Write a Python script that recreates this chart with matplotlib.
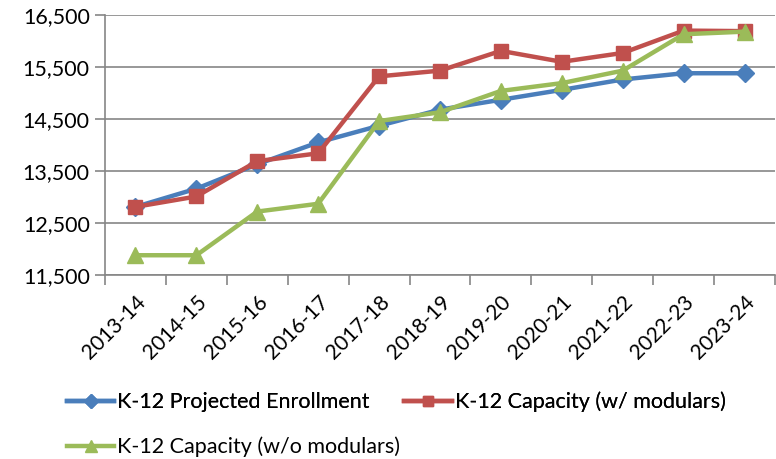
import matplotlib
matplotlib.use("Agg")
import matplotlib.pyplot as plt
import numpy as np

years = ["2013-14", "2014-15", "2015-16", "2016-17", "2017-18", "2018-19",
         "2019-20", "2020-21", "2021-22", "2022-23", "2023-24"]
enrollment = [12810, 13160, 13630, 14050, 14370, 14680, 14870, 15060, 15260, 15380, 15380]
cap_with = [12810, 13010, 13690, 13840, 15320, 15430, 15810, 15600, 15770, 16200, 16190]
cap_without = [11880, 11880, 12720, 12870, 14460, 14630, 15040, 15190, 15430, 16130, 16180]
yticks = [11500, 12500, 13500, 14500, 15500, 16500]

FONT = ["Lato", "DejaVu Sans"]
plt.rcParams['font.family'] = FONT

W, H = 776, 459
fig = plt.figure(figsize=(W/100, H/100), dpi=100)
ax = fig.add_axes([105/W, 1-275/H, (775-105)/W, (275-15)/H])

x = np.arange(len(years))
blue, red, green = "#4A7EBB", "#C0504D", "#9BBB59"
l1, = ax.plot(x, enrollment, color=blue, lw=3.2, marker="D", ms=9.5,
              label="K-12 Projected Enrollment", zorder=3)
l2, = ax.plot(x, cap_with, color=red, lw=3.2, marker="s", ms=10.5,
              label="K-12 Capacity (w/ modulars)", zorder=4)
l3, = ax.plot(x, cap_without, color=green, lw=3.2, marker="^", ms=12,
              label="K-12 Capacity (w/o modulars)", zorder=5)

ax.set_xlim(-0.5, len(years)-0.5)
ax.set_ylim(11500, 16500)
ax.set_yticks(yticks)
ax.set_yticklabels([f"{v:,}" for v in yticks], fontsize=15.5)
ax.yaxis.grid(True, color="#868686", lw=1.2)
ax.set_axisbelow(True)

ax.set_xticks(x)
ax.set_xticklabels(years, rotation=45, ha="right", va="top",
                   rotation_mode="anchor", fontsize=15)
ax.set_xticks(np.arange(-0.5, len(years)), minor=True)
ax.tick_params(axis="x", which="major", length=0, pad=12)
ax.tick_params(axis="x", which="minor", length=7, color="#868686", width=1.2)
ax.tick_params(axis="y", length=7, color="#868686", width=1.2, pad=4)

for s in ["top", "right"]:
    ax.spines[s].set_visible(False)
for s in ["left", "bottom"]:
    ax.spines[s].set_color("#868686")
    ax.spines[s].set_linewidth(1.2)

leg_kw = dict(frameon=False, fontsize=15.5, handlelength=2.2, handletextpad=0.14,
              columnspacing=1.6, markerscale=0.75, borderpad=0, borderaxespad=0)
leg1 = fig.legend(handles=[l1, l2], ncol=2, loc="center left",
                  bbox_to_anchor=(67/W, 1-402/H), **leg_kw)
fig.add_artist(leg1)
leg2 = fig.legend(handles=[l3], ncol=1, loc="center left",
                  bbox_to_anchor=(67/W, 1-447/H), **leg_kw)

fig.savefig("out.png", dpi=100)
